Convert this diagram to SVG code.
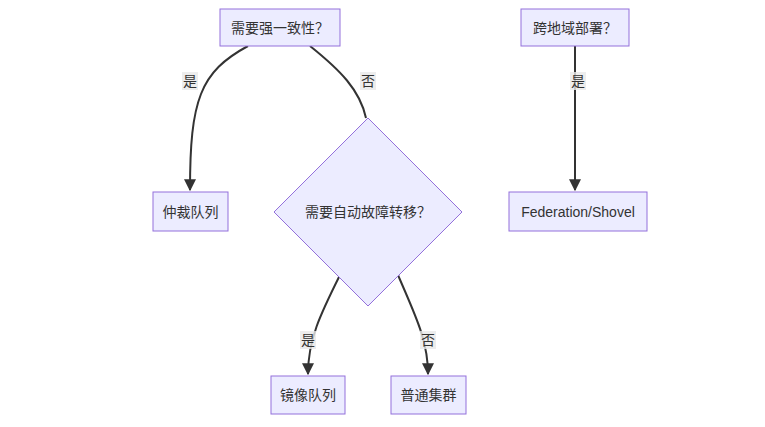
<svg xmlns="http://www.w3.org/2000/svg" width="765" height="427" viewBox="0 0 765 427">
<defs>
<style>
.n{fill:#ECECFF;stroke:#9370DB;stroke-width:1}
.t{font-family:"Liberation Sans","Noto Sans CJK SC",sans-serif;font-size:14px;fill:#333;text-anchor:middle;dominant-baseline:central}
.e{fill:none;stroke:#333;stroke-width:2}
.lb{fill:#E8E8E8;opacity:0.8}
</style>
<marker id="a" viewBox="0 0 10 10" refX="9" refY="5" markerWidth="6" markerHeight="6" orient="auto"><path d="M0,0L10,5L0,10z" fill="#333"/></marker>
</defs>
<rect width="765" height="427" fill="#fff"/>
<g id="connectors">
<path class="e" d="M248,46 C200,72 190,100 190,190" marker-end="url(#a)"/>
<path class="e" d="M310,46 C340,70 360,90 366,118"/>
<path class="e" d="M340,275 C320,315 308,340 308,374" marker-end="url(#a)"/>
<path class="e" d="M398,275 C415,315 428,340 428,374" marker-end="url(#a)"/>
<path class="e" d="M575,46 L575,190" marker-end="url(#a)"/>
<rect class="lb" x="182" y="72" width="16" height="18"/><text class="t" x="190" y="81">是</text>
<rect class="lb" x="360" y="72" width="16" height="18"/><text class="t" x="368" y="81">否</text>
<rect class="lb" x="300" y="331" width="16" height="18"/><text class="t" x="308" y="340">是</text>
<rect class="lb" x="420" y="331" width="16" height="18"/><text class="t" x="428" y="340">否</text>
<rect class="lb" x="570" y="72" width="16" height="18"/><text class="t" x="578" y="81">是</text>
</g>
<g id="n1"><rect class="n" x="220" y="9" width="120" height="37"/><text class="t" x="280" y="27.5">需要强一致性？</text></g>
<g id="n2"><rect class="n" x="153" y="192" width="75" height="39"/><text class="t" x="190.5" y="211.5">仲裁队列</text></g>
<g id="n3"><polygon class="n" points="368,118 462,212 368,306 274,212"/><text class="t" x="368" y="212">需要自动故障转移？</text></g>
<g id="n4"><rect class="n" x="271" y="376" width="74" height="38"/><text class="t" x="308" y="395">镜像队列</text></g>
<g id="n5"><rect class="n" x="391" y="376" width="75" height="38"/><text class="t" x="428.5" y="395">普通集群</text></g>
<g id="n6"><rect class="n" x="521" y="9" width="108" height="37"/><text class="t" x="575" y="27.5">跨地域部署？</text></g>
<g id="n7"><rect class="n" x="509" y="192" width="138" height="39"/><text class="t" x="578" y="211.5">Federation/Shovel</text></g>
</svg>
